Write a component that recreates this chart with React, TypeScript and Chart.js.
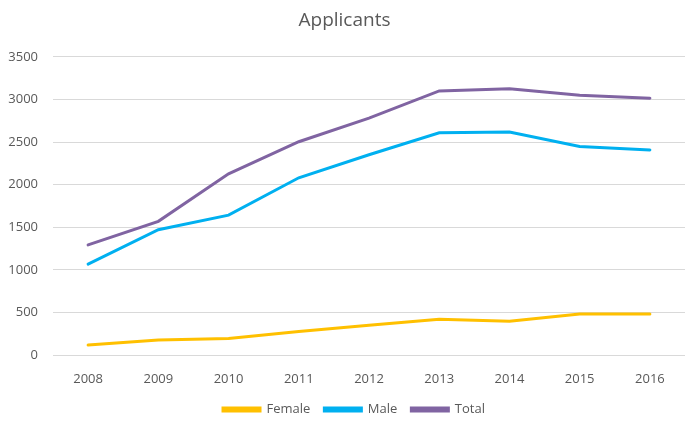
import React, { useEffect, useRef } from "react";
import { Chart, registerables } from "chart.js";

Chart.register(...registerables);

const years = ["2008", "2009", "2010", "2011", "2012", "2013", "2014", "2015", "2016"];
const female = [117, 175, 194, 276, 350, 420, 395, 482, 482];
const male = [1066, 1470, 1642, 2080, 2350, 2609, 2617, 2447, 2406];
const total = [1292, 1569, 2127, 2503, 2780, 3099, 3126, 3048, 3014];

const FONT = "'Open Sans', 'Liberation Sans', sans-serif";

const legendShift = {
  id: "legendShift",
  afterLayout(chart: any) {
    if (chart.legend) chart.legend.left += 19;
  },
};

export default function App() {
  const ref = useRef<HTMLCanvasElement | null>(null);
  useEffect(() => {
    if (!ref.current) return;
    const chart = new Chart(ref.current, {
      type: "line",
      data: {
        labels: years,
        datasets: [
          { label: "Female", data: female, borderColor: "#FFC000", backgroundColor: "#FFC000", borderWidth: 3, pointRadius: 0, borderCapStyle: "round" },
          { label: "Male", data: male, borderColor: "#00B0F0", backgroundColor: "#00B0F0", borderWidth: 3, pointRadius: 0, borderCapStyle: "round" },
          { label: "Total", data: total, borderColor: "#8064A2", backgroundColor: "#8064A2", borderWidth: 3, pointRadius: 0, borderCapStyle: "round" },
        ],
      },
      options: {
        animation: false,
        responsive: false,
        maintainAspectRatio: false,
        layout: { padding: { left: 4, right: 0, top: 9, bottom: 0 } },
        plugins: {
          title: {
            display: true,
            text: "Applicants",
            color: "#595959",
            font: { family: FONT, size: 19, weight: "normal" },
            padding: { top: 0, bottom: 25 },
          },
          legend: {
            position: "bottom",
            labels: {
              color: "#595959",
              font: { family: FONT, size: 13 },
              boxWidth: 37,
              boxHeight: 3,
              padding: 14,
            },
          },
          tooltip: { enabled: false },
        },
        scales: {
          x: {
            offset: true,
            afterFit: (s: any) => {
              s.height = 34;
            },
            grid: { display: false },
            border: { display: false },
            ticks: { color: "#595959", font: { family: FONT, size: 13 }, padding: 8 },
          },
          y: {
            min: 0,
            max: 3500,
            afterFit: (s: any) => {
              s.width = 49;
            },
            ticks: {
              stepSize: 500,
              color: "#595959",
              font: { family: FONT, size: 13 },
              padding: 15,
              callback: (v: any) => String(v),
            },
            grid: { color: "#D9D9D9", lineWidth: 1, drawTicks: false },
            border: { display: false },
          },
        },
      },
      plugins: [legendShift],
    });
    return () => chart.destroy();
  }, []);
  return (
    <div style={{ position: "fixed", left: 0, top: 0, width: 685, height: 426, background: "#fff" }}>
      <canvas ref={ref} width={685} height={426} style={{ width: 685, height: 426 }} />
    </div>
  );
}
